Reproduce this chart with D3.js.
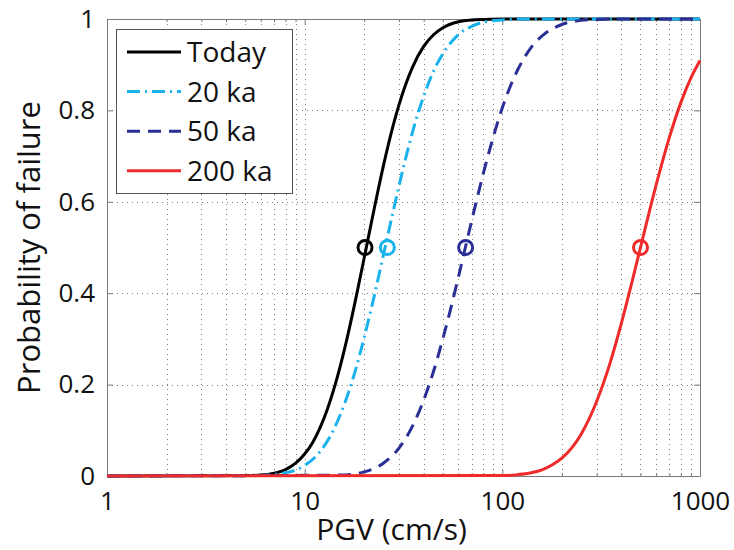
<!DOCTYPE html>
<html>
<head>
<meta charset="utf-8">
<script src="https://cdn.jsdelivr.net/npm/d3@7"></script>
<style>
  html, body { margin: 0; padding: 0; background: #fff; }
  svg { display: block; font-family: "Open Sans", "DejaVu Sans", sans-serif; }
</style>
</head>
<body>
<svg id="chart" width="734" height="550"></svg>
<script>
// Fragility curves: probability of failure vs peak ground velocity (PGV, cm/s)
const seriesNames = ["Today", "20 ka", "50 ka", "200 ka"];
const seriesColors = ["#000000", "#19b2ec", "#2a2f96", "#ee2a2a"];

// [PGV, probability] samples along each curve
const today = [[1,0],[5,0.001],[6,0.002],[7,0.006],[8,0.014],[9,0.028],[10,0.048],[11,0.074],[12,0.107],[13,0.145],[14,0.188],[15,0.234],[16,0.282],[18,0.381],[20,0.477],[22,0.565],[25,0.678],[28,0.766],[30,0.812],[35,0.893],[40,0.94],[45,0.966],[50,0.981],[60,0.994],[70,0.998],[80,0.999],[100,1],[1000,1]];
const ka20 = [[1,0],[6,0.001],[7,0.003],[8,0.007],[9,0.013],[10,0.023],[12,0.054],[14,0.101],[16,0.161],[18,0.229],[20,0.303],[22,0.376],[25,0.483],[28,0.578],[32,0.685],[36,0.769],[40,0.831],[45,0.887],[50,0.924],[60,0.966],[70,0.984],[80,0.993],[100,0.998],[130,1],[1000,1]];
const ka50 = [[1,0],[15,0.002],[20,0.009],[25,0.028],[30,0.061],[35,0.108],[40,0.166],[45,0.231],[50,0.3],[55,0.369],[60,0.436],[65,0.5],[70,0.559],[80,0.661],[90,0.742],[100,0.806],[120,0.89],[140,0.938],[160,0.964],[200,0.988],[250,0.997],[300,0.999],[400,1],[1000,1]];
const ka200 = [[1,0],[100,0.001],[120,0.003],[140,0.007],[160,0.014],[180,0.025],[200,0.039],[250,0.091],[300,0.163],[350,0.246],[400,0.334],[450,0.42],[500,0.5],[600,0.637],[700,0.741],[800,0.817],[900,0.871],[1000,0.909]];

// median PGV of each curve, marked with a circle at P = 0.5
const medianPGV = [20.2, 26.2, 65.2, 500];
const medianP = [0.5, 0.5, 0.5, 0.5];

const xTicks = [1, 10, 100, 1000];
const yTicks = [0, 0.2, 0.4, 0.6, 0.8, 1];

const curves = [today, ka20, ka50, ka200];
const dashes = [null, "13,5,2,5", "13,8", null];

const svg = d3.select("#chart");
const m = { left: 107, right: 700, top: 19, bottom: 476 };

const x = d3.scaleLog().domain([1, 1000]).range([m.left, m.right]);
const y = d3.scaleLinear().domain([0, 1]).range([m.bottom, m.top]);

const minorX = [];
for (let d = 1; d < 1000; d *= 10) for (let k = 2; k <= 9; k++) minorX.push(d * k);

// dotted grid
const grid = svg.append("g").attr("stroke", "#808080").attr("stroke-width", 1)
  .attr("stroke-dasharray", "1,4");
grid.selectAll("line.gx").data(minorX.concat(xTicks.slice(1, -1))).join("line")
  .attr("x1", d => Math.round(x(d)) + 0.5).attr("x2", d => Math.round(x(d)) + 0.5)
  .attr("y1", m.top).attr("y2", m.bottom);
grid.selectAll("line.gy").data(yTicks.slice(1, -1)).join("line")
  .attr("x1", m.left).attr("x2", m.right)
  .attr("y1", d => Math.round(y(d)) + 0.5).attr("y2", d => Math.round(y(d)) + 0.5);

// axes (ticks point inward)
const axisColor = "#7a7a7a";
const gxB = svg.append("g").attr("transform", `translate(0,${m.bottom})`)
  .call(d3.axisBottom(x).tickValues(xTicks).tickFormat(d => String(d)).tickSizeInner(-6).tickSizeOuter(0).tickPadding(16));
const gxBm = svg.append("g").attr("transform", `translate(0,${m.bottom})`)
  .call(d3.axisBottom(x).tickValues(minorX).tickFormat("").tickSizeInner(-3).tickSizeOuter(0));
const gxT = svg.append("g").attr("transform", `translate(0,${m.top})`)
  .call(d3.axisTop(x).tickValues(xTicks).tickFormat("").tickSizeInner(-6).tickSizeOuter(0));
const gxTm = svg.append("g").attr("transform", `translate(0,${m.top})`)
  .call(d3.axisTop(x).tickValues(minorX).tickFormat("").tickSizeInner(-3).tickSizeOuter(0));
const gyL = svg.append("g").attr("transform", `translate(${m.left},0)`)
  .call(d3.axisLeft(y).tickValues(yTicks).tickFormat(d => String(d)).tickSizeInner(-6).tickSizeOuter(0).tickPadding(12));
const gyR = svg.append("g").attr("transform", `translate(${m.right},0)`)
  .call(d3.axisRight(y).tickValues(yTicks).tickFormat("").tickSizeInner(-6).tickSizeOuter(0));

[gxB, gxBm, gxT, gxTm, gyL, gyR].forEach(g => {
  g.selectAll(".domain").attr("stroke", axisColor);
  g.selectAll(".tick line").attr("stroke", axisColor);
  g.selectAll("text").attr("fill", "#111").attr("font-size", 26)
    .attr("font-family", "'Open Sans', sans-serif");
});

// curves
const line = d3.line().x(d => x(d[0])).y(d => y(d[1])).curve(d3.curveMonotoneX);
const plot = svg.append("g");
curves.forEach((c, i) => {
  plot.append("path").datum(c)
    .attr("fill", "none").attr("stroke", seriesColors[i]).attr("stroke-width", 3)
    .attr("stroke-dasharray", dashes[i]).attr("d", line);
});

// median markers
plot.selectAll("circle.med").data(medianPGV).join("circle")
  .attr("cx", d => x(d)).attr("cy", (d, i) => y(medianP[i])).attr("r", 7)
  .attr("fill", "none").attr("stroke", (d, i) => seriesColors[i]).attr("stroke-width", 3);

// legend
const lg = svg.append("g");
lg.append("rect").attr("x", 116.5).attr("y", 29.5).attr("width", 176).attr("height", 164)
  .attr("fill", "#fff").attr("stroke", "#555").attr("stroke-width", 1);
seriesNames.forEach((name, i) => {
  const ry = 52 + i * 39.6;
  lg.append("line").attr("x1", 127).attr("x2", 181).attr("y1", ry).attr("y2", ry)
    .attr("stroke", seriesColors[i]).attr("stroke-width", 3).attr("stroke-dasharray", dashes[i]);
  lg.append("text").attr("x", 187).attr("y", ry).attr("dy", "0.36em")
    .attr("font-size", 28).attr("fill", "#111").text(name);
});

// axis titles
svg.append("text").attr("x", (m.left + m.right) / 2 - 12).attr("y", 540)
  .attr("text-anchor", "middle").attr("font-size", 30).attr("fill", "#111").text("PGV (cm/s)");
svg.append("text").attr("transform", `translate(40,${(m.top + m.bottom) / 2}) rotate(-90)`)
  .attr("text-anchor", "middle").attr("font-size", 31).attr("fill", "#111").text("Probability of failure");
</script>
</body>
</html>
